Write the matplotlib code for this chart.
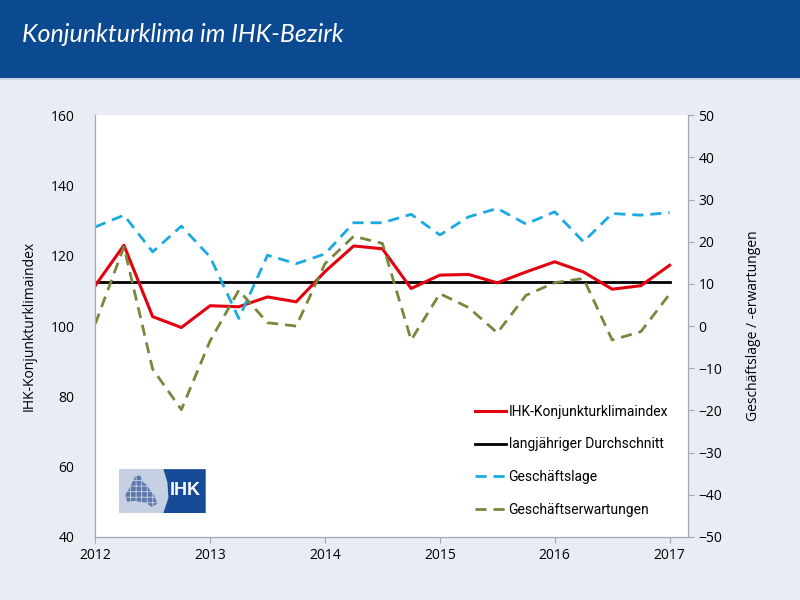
import numpy as np
import matplotlib
matplotlib.use('Agg')
import matplotlib.pyplot as plt
from matplotlib.patches import Rectangle, Polygon

plt.rcParams['font.family'] = ['Open Sans', 'DejaVu Sans']
plt.rcParams['hatch.linewidth'] = 0.6

# quarterly survey dates
quarters = [2012.0, 2012.25, 2012.5, 2012.75, 2013.0, 2013.25, 2013.5, 2013.75,
            2014.0, 2014.25, 2014.5, 2014.75, 2015.0, 2015.25, 2015.5, 2015.75,
            2016.0, 2016.25, 2016.5, 2016.75, 2017.0]
klimaindex = [111.5, 123.0, 102.7, 99.6, 105.8, 105.5, 108.3, 106.9,
              115.5, 122.8, 122.0, 110.7, 114.5, 114.7, 112.3, 115.4,
              118.3, 115.4, 110.5, 111.5, 117.3]
durchschnitt = [112.5] * len(quarters)
lage = [23.5, 26.3, 17.6, 23.7, 16.4, 1.8, 16.8, 14.8,
        17.1, 24.5, 24.5, 26.5, 21.6, 25.9, 27.9, 24.2,
        27.1, 20.0, 26.7, 26.3, 26.9]
erwartungen = [0.5, 18.8, -10.2, -19.8, -3.5, 8.5, 0.8, 0.0,
               14.8, 21.3, 19.6, -3.3, 7.7, 4.4, -1.6, 7.3,
               10.3, 11.3, -3.3, -1.3, 7.6]

year_ticks = [2012, 2013, 2014, 2015, 2016, 2017]
left_ticks = [40, 60, 80, 100, 120, 140, 160]
right_ticks = [-50, -40, -30, -20, -10, 0, 10, 20, 30, 40, 50]

bg = '#e8edf5'
fig = plt.figure(figsize=(8, 6), dpi=100, facecolor=bg)

# header band
fig.patches.append(Rectangle((0, 0.868), 1, 0.132, transform=fig.transFigure,
                             facecolor='#0b4a90', edgecolor='none', zorder=0))
fig.patches.append(Rectangle((0, 0.866), 1, 0.004, transform=fig.transFigure,
                             facecolor='#c9d6e8', edgecolor='none', zorder=0))
fig.text(0.027, 0.943, 'Konjunkturklima im IHK-Bezirk', color='white',
         fontsize=18, style='italic', family=['Lato', 'DejaVu Sans'],
         va='center', ha='left')

ax = fig.add_axes([0.119, 0.105, 0.741, 0.703])
ax.set_facecolor('white')
ax2 = ax.twinx()

ax.plot(quarters, klimaindex, color='#e3000f', lw=2.2, label='IHK-Konjunkturklimaindex', zorder=4)
ax.plot(quarters, durchschnitt, color='black', lw=2.0, label='langjähriger Durchschnitt', zorder=3)
l3, = ax2.plot(quarters, lage, color='#1ba9e1', lw=2.0, dashes=(4, 2.5), label='Geschäftslage')
l4, = ax2.plot(quarters, erwartungen, color='#77873d', lw=2.0, dashes=(4, 2.5),
               label='Geschäftserwartungen')

ax.set_xlim(2012, 2017.16)
ax.set_ylim(40, 160)
ax2.set_ylim(-50, 50)
ax.set_xticks(year_ticks)
ax.set_xticklabels([str(y) for y in year_ticks])
ax.set_yticks(left_ticks)
ax2.set_yticks(right_ticks)

for a in (ax, ax2):
    for s in a.spines.values():
        s.set_color('#a0a8b4')
        s.set_linewidth(0.8)
    a.spines['top'].set_visible(False)
    a.tick_params(colors='#a0a8b4', labelcolor='black', labelsize=10, length=4, width=0.8)
ax.tick_params(axis='y', length=0, pad=15)
ax.tick_params(axis='x', pad=4)

ax.set_ylabel('IHK-Konjunkturklimaindex', fontsize=10, labelpad=10)
ax2.set_ylabel('Geschäftslage / -erwartungen', fontsize=10, labelpad=17)

h1, lab1 = ax.get_legend_handles_labels()
leg = ax.legend(h1 + [l3, l4], lab1 + [l3.get_label(), l4.get_label()],
                loc='lower left', bbox_to_anchor=(0.62, 0.018), frameon=False,
                labelspacing=1.35, handlelength=2.2, handletextpad=0.2,
                prop={'family': ['Roboto', 'DejaVu Sans'], 'size': 10})

# IHK logo
lax = fig.add_axes([0.149, 0.145, 0.108, 0.073])
lax.set_xlim(0, 86)
lax.set_ylim(0, 43)
lax.axis('off')
lax.add_patch(Rectangle((0, 0), 86, 43, facecolor='#c5d1e2', edgecolor='none'))
lax.add_patch(Polygon([(44, 0), (86, 0), (86, 43), (44, 43), (48, 30), (49, 15)],
                      facecolor='#174a97', edgecolor='none'))
lax.add_patch(Polygon([(6, 18), (10, 24), (13, 30), (16, 36), (21, 37), (23, 31),
                       (28, 27), (31, 22), (35, 17), (38, 9), (32, 6), (27, 10),
                       (21, 11), (15, 12), (8, 11)],
                      facecolor='#5d78aa', edgecolor='#c5d1e2', hatch='+++', lw=0))
lax.text(66, 22, 'IHK', color='white', fontsize=13, fontweight='bold',
         ha='center', va='center', family=['Liberation Sans', 'DejaVu Sans'])

fig.savefig('out.png', dpi=100, facecolor=bg)
